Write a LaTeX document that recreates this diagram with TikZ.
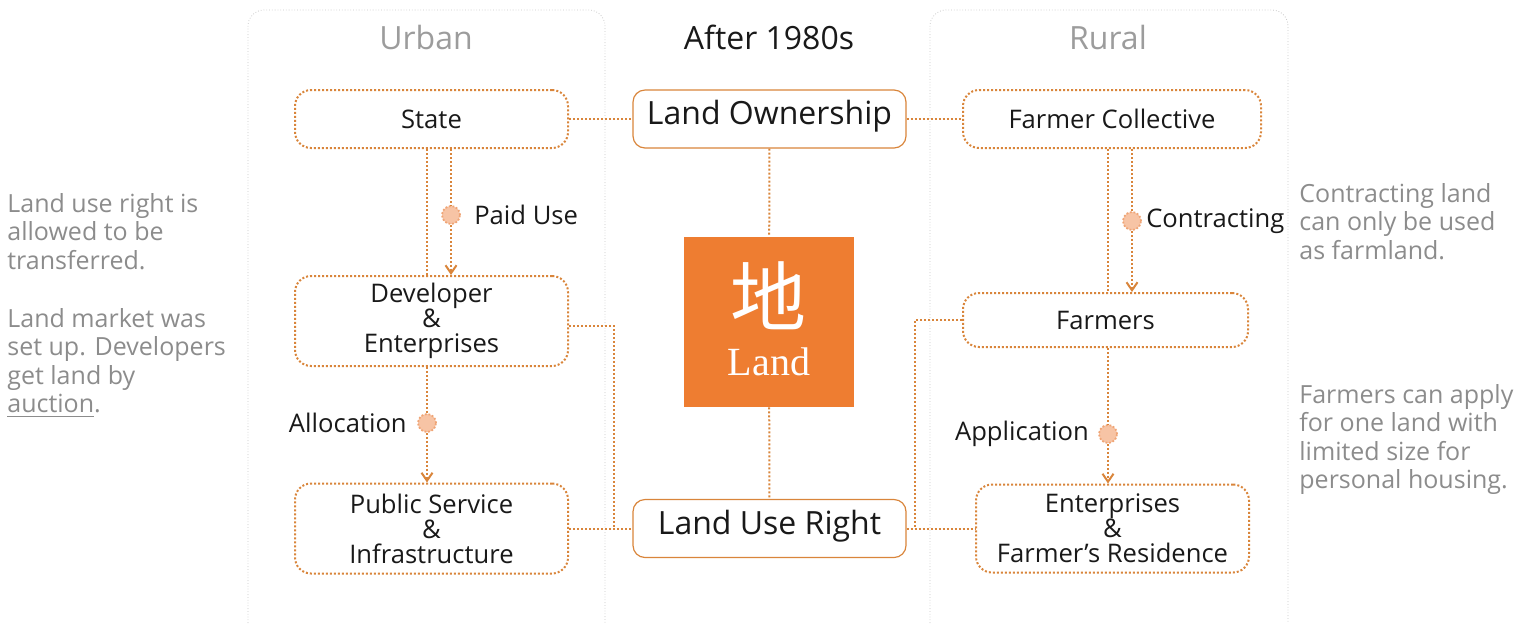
\documentclass[tikz,border=0pt]{standalone}
\usepackage{fontspec}
\setmainfont{Open Sans}
\newfontfamily\cjkfont{Noto Sans CJK SC}
\newfontfamily\seriffont{Liberation Serif}
\usetikzlibrary{arrows.meta,positioning}

\definecolor{landorange}{HTML}{EE7D31}
\definecolor{lineorange}{HTML}{D9853B}
\definecolor{knotfill}{HTML}{F7C4A5}
\definecolor{knotline}{HTML}{EFA576}
\definecolor{notegray}{HTML}{8C8C8C}
\definecolor{titlegray}{HTML}{9C9C9C}

\tikzset{
  stagebox/.style={draw=lineorange, line width=1pt, dash pattern=on 1pt off 1pt, rounded corners=8pt, align=center, text=black!90, font=\fontsize{12.8}{12.5}\selectfont, inner sep=0pt},
  keybox/.style={draw=lineorange, line width=0.6pt, rounded corners=6pt, fill=white, text=black!90, font=\fontsize{16}{18}\selectfont, text height=0.76em, text depth=0.2em, minimum width=136.5pt, minimum height=29pt},
  link/.style={draw=lineorange, line width=1pt, dash pattern=on 1pt off 1pt},
  flow/.style={link, -{Straight Barb[length=4pt,width=5.5pt]}},
  knot/.style={circle, fill=knotfill, draw=knotline, line width=0.9pt, dash pattern=on 0.9pt off 0.9pt, minimum size=9pt, inner sep=0pt},
  tag/.style={text=black!90, font=\fontsize{12.8}{14}\selectfont, inner sep=0pt},
  note/.style={text=notegray, align=left, anchor=north west, inner sep=0pt, font=\fontsize{12.5}{14.25}\selectfont},
  heading/.style={font=\fontsize{16}{18}\selectfont, inner sep=0pt},
  panel/.style={draw=gray!45, line width=0.4pt, densely dotted, rounded corners=8pt}
}

\begin{document}
\begin{tikzpicture}[x=0.5pt, y=-0.5pt]
  \useasboundingbox (0,0) rectangle (1524,623);
  % panels
  \draw[panel] (248,623) -- (248,10) -- (605,10) -- (605,623);
  \draw[panel] (930,623) -- (930,10) -- (1288,10) -- (1288,623);
  \node[heading, text=titlegray] (urban) at (426,37) {Urban};
  \node[heading, text=black!90] (era) at (769,37) {After 1980s};
  \node[heading, text=titlegray] (rural) at (1108,37) {Rural};

  % boxes
  \node[stagebox, minimum width=136.5pt, minimum height=29pt] (state) at (431.5,119) {State};
  \node[keybox] (own) at (769.5,119) {Land Ownership};
  \node[stagebox, minimum width=149pt, minimum height=29pt] (coll) at (1112,119) {Farmer Collective};
  \node[stagebox, minimum width=136.5pt, minimum height=45pt] (dev) at (431.5,321) {Developer\\\&\\Enterprises};
  \node[stagebox, minimum width=136.5pt, minimum height=45pt] (pub) at (431.5,528.5) {Public Service\\\&\\Infrastructure};
  \node[fill=landorange, minimum size=85pt, inner sep=0pt] (land) at (769,322) {};
  \node[text=white, font=\cjkfont\fontsize{38}{40}\selectfont] (landzh) at (768,296) {地};
  \node[text=white, font=\seriffont\fontsize{20}{22}\selectfont] (landen) at (769,362) {Land};
  \node[keybox] (use) at (769.5,528.5) {Land Use Right};
  \node[stagebox, minimum width=142.5pt, minimum height=27pt] (farmers) at (1105.5,320) {Farmers};
  \node[stagebox, minimum width=136.5pt, minimum height=44pt] (ent) at (1112.5,528.5) {Enterprises\\\&\\Farmer’s Residence};

  % knots and their labels
  \node[knot] (paid) at (451,215) {};
  \node[tag, right=6.5pt of paid] (paidtxt) {Paid Use};
  \node[knot] (alloc) at (427,423) {};
  \node[tag, left=5pt of alloc] (alloctxt) {Allocation};
  \node[knot] (contr) at (1132,221) {};
  \node[tag, right=2pt of contr] (contrtxt) {Contracting};
  \node[knot] (appl) at (1108,434) {};
  \node[tag, left=4.5pt of appl] (appltxt) {Application};

  % connectors
  \draw[link] (state) -- (own);
  \draw[link] (own) -- (coll);
  \draw[link] (own) -- (land);
  \draw[link] (land) -- (use);
  \draw[link] (state.south -| alloc) -- (dev.north -| alloc);
  \draw[link] (state.south -| paid) -- (paid);
  \draw[flow] (paid) -- (dev.north -| paid);
  \draw[link] (dev.south -| alloc) -- (alloc);
  \draw[flow] (alloc) -- (pub.north -| alloc);
  \draw[link] (coll.south -| appl) -- (farmers.north -| appl);
  \draw[link] (coll.south -| contr) -- (contr);
  \draw[flow] (contr) -- (farmers.north -| contr);
  \draw[link] (farmers.south -| appl) -- (appl);
  \draw[flow] (appl) -- (ent.north -| appl);
  \coordinate (ujoin) at (614,528.5);
  \coordinate (rjoin) at (915,528.5);
  \draw[link] (pub) -- (use);
  \draw[link] (use) -- (ent);
  \draw[link] ([yshift=-2.5pt]dev.east) -| (ujoin);
  \draw[link] (farmers.west) -| (rjoin);

  % side notes
  \node[note] (leftnote1) at (7,193) {Land use right is\\allowed to be\\transferred.};
  \node[note] (leftnote2) at (7,308) {Land market was\\set up. Developers\\get land by\\\underline{auction}.};
  \node[note] (rightnote1) at (1299,183) {Contracting land\\can only be used\\as farmland.};
  \node[note] (rightnote2) at (1299,384) {Farmers can apply\\for one land with\\limited size for\\personal housing.};
\end{tikzpicture}
\end{document}
